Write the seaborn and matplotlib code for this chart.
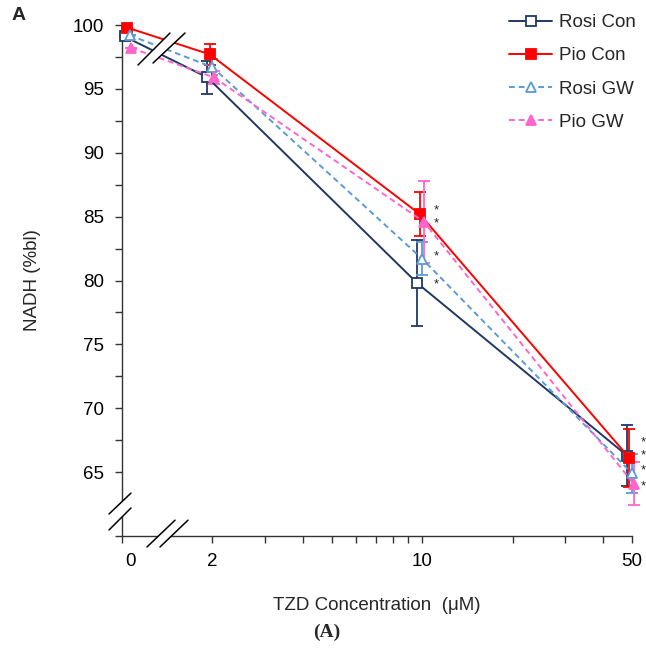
import numpy as np
import pandas as pd
import seaborn as sns
import matplotlib.pyplot as plt
import matplotlib.transforms as mtransforms
from matplotlib.ticker import FixedLocator, NullFormatter

# data
doses = [0, 2, 10, 50]
groups = ["Rosi Con", "Pio Con", "Rosi GW", "Pio GW"]
rosi_con = [99.1, 95.9, 79.8, 66.3]
pio_con = [99.8, 97.7, 85.2, 66.1]
rosi_gw = [99.2, 96.7, 81.7, 64.9]
pio_gw = [98.2, 95.9, 84.6, 64.1]
rosi_con_err = [0.0, 1.3, 3.4, 2.4]
pio_con_err = [0.0, 0.8, 1.7, 2.3]
rosi_gw_err = [0.0, 0.6, 1.3, 1.5]
pio_gw_err = [0.0, 0.5, 3.2, 1.7]
sig10 = [85.5, 84.5, 81.9, 79.7]
sig50 = [67.3, 66.3, 65.1, 63.9]

values = [rosi_con, pio_con, rosi_gw, pio_gw]
errors = [rosi_con_err, pio_con_err, rosi_gw_err, pio_gw_err]

df = pd.DataFrame({
    "group": np.repeat(groups, len(doses)),
    "dose": doses * len(groups),
    "nadh": np.concatenate(values),
    "err": np.concatenate(errors),
})

# styles
colors = {"Rosi Con": "#1F3864", "Pio Con": "#FF0000",
          "Rosi GW": "#5B9BD5", "Pio GW": "#FF66CC"}
marker = {"Rosi Con": "s", "Pio Con": "s", "Rosi GW": "^", "Pio GW": "^"}
face = {"Rosi Con": "white", "Pio Con": "#FF0000",
        "Rosi GW": "white", "Pio GW": "#FF66CC"}
ls = {"Rosi Con": "-", "Pio Con": "-",
      "Rosi GW": (0, (3, 2)), "Pio GW": (0, (3, 2))}
dodge = {"Rosi Con": 0.962, "Pio Con": 0.981, "Rosi GW": 1.0, "Pio GW": 1.012}
zero_pos = 1.06  # where dose 0 sits on the log axis
fs = 13.5

sns.set_style("ticks")
plt.rcParams["font.family"] = ["Liberation Sans", "DejaVu Sans"]

fig = plt.figure(figsize=(6.46, 6.52), dpi=100)
ax = fig.add_axes([122 / 646, 1 - 536 / 652, 510 / 646, 511 / 652])
ax.set_xscale("log")

df["pos"] = df["dose"].replace(0, zero_pos) * df["group"].map(dodge)

for g in groups:
    sub = df[df["group"] == g]
    ax.errorbar(sub["pos"], sub["nadh"], yerr=sub["err"], fmt="none",
                ecolor=colors[g], elinewidth=1.3, capsize=4, capthick=1.3,
                clip_on=False, zorder=2)
    sns.lineplot(x=sub["pos"].values, y=sub["nadh"].values, ax=ax,
                 color=colors[g], marker=marker[g], markersize=7.5,
                 markerfacecolor=face[g], markeredgecolor=colors[g],
                 markeredgewidth=1.3, linewidth=1.4, linestyle=ls[g],
                 sort=False, errorbar=None, label=g, clip_on=False, zorder=3)

if ax.get_legend() is not None:
    ax.get_legend().remove()

# significance stars
off10 = mtransforms.ScaledTranslation(14 / 100, 0, fig.dpi_scale_trans)
off50 = mtransforms.ScaledTranslation(11 / 100, 0, fig.dpi_scale_trans)
for y in sig10:
    ax.text(10, y, "*", fontsize=9.5, ha="center", va="center",
            transform=ax.transData + off10)
for y in sig50:
    ax.text(50, y, "*", fontsize=9.5, ha="center", va="center",
            transform=ax.transData + off50, clip_on=False)

ax.set_xlim(1, 50)
ax.set_ylim(60, 100)
ax.set_xticks([1, 2, 10, 50])
ax.set_xticklabels(["0", "2", "10", "50"])
ax.xaxis.set_minor_locator(FixedLocator([3, 4, 5, 6, 7, 8, 9, 20, 30, 40]))
ax.xaxis.set_minor_formatter(NullFormatter())
ax.set_yticks(np.arange(60, 101, 5))
ax.set_yticklabels([""] + [str(v) for v in range(65, 101, 5)])
ax.yaxis.set_minor_locator(FixedLocator(np.arange(67.5, 100, 5)))
for side in ["top", "right"]:
    ax.spines[side].set_visible(False)
for side in ["left", "bottom"]:
    ax.spines[side].set_color("#333333")
    ax.spines[side].set_linewidth(1.0)
ax.tick_params(which="both", direction="out", length=5, width=1.0,
               color="#333333", labelsize=fs, labelcolor="black")
ax.tick_params(axis="y", pad=8)
ax.tick_params(axis="x", pad=7)

lbl0 = ax.get_xticklabels()[0]
lbl0.set_transform(lbl0.get_transform() +
                   mtransforms.ScaledTranslation(8 / 100, 0, fig.dpi_scale_trans))

ax.set_xlabel("TZD Concentration  (\u03bcM)", fontsize=fs)
ax.xaxis.set_label_coords(0.5, -0.12)
ax.set_ylabel("NADH (%bl)", fontsize=fs)
ax.yaxis.set_label_coords(-0.158, 0.5)

# axis breaks
def brk(p1, p2, q1, q2):
    ax.fill([p1[0], p2[0], q2[0], q1[0]], [p1[1], p2[1], q2[1], q1[1]],
            color="white", transform=ax.transAxes, clip_on=False, zorder=5,
            lw=0)
    for a, b in [(p1, p2), (q1, q2)]:
        ax.plot([a[0], b[0]], [a[1], b[1]], color="black", lw=1.1,
                transform=ax.transAxes, clip_on=False, zorder=6)

brk((0.0314, 0.9217), (0.0941, 0.9843), (0.0608, 0.9256), (0.1235, 0.9843))
brk((0.049, -0.0215), (0.104, 0.031), (0.0745, -0.0215), (0.1294, 0.031))
brk((-0.0255, 0.043), (0.0176, 0.084), (-0.0255, 0.0117), (0.0176, 0.0548))

handles, labels = ax.get_legend_handles_labels()
fig.legend(handles, labels, loc="upper left",
           bbox_to_anchor=(509 / 646, 1 - 14 / 652), frameon=False,
           fontsize=fs, handlelength=2.3, handletextpad=0.37,
           labelspacing=0.86, borderaxespad=0, borderpad=0)

fig.text(12 / 646, 1 - 15 / 652, "A", fontsize=14, fontweight="bold",
         va="center", ha="left")
fig.text(327 / 646, 1 - 632 / 652, "(A)", fontsize=14, fontweight="bold",
         family="Liberation Serif", ha="center", va="center")

fig.savefig("out.png", dpi=100)
